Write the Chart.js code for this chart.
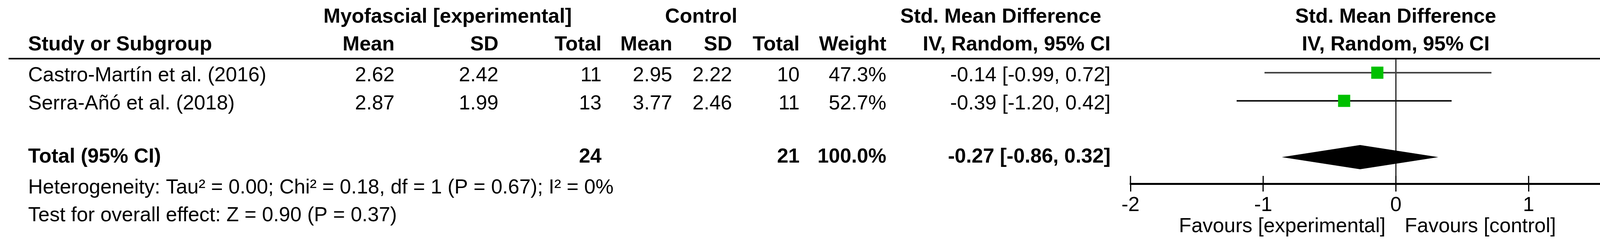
<!DOCTYPE html>
<html lang="en">
<head>
<meta charset="UTF-8">
<title>Forest plot</title>
<script src="https://cdn.jsdelivr.net/npm/chart.js"></script>
<style>
  html, body { margin: 0; padding: 0; background: #fff; overflow: hidden; }
</style>
</head>
<body>
<canvas id="forest" width="4301" height="614"></canvas>
<script>
// study data
const studies = ['Castro-Martín et al. (2016)', 'Serra-Añó et al. (2018)'];
const expMean = ['2.62', '2.87'];
const expSD = ['2.42', '1.99'];
const expTotal = ['11', '13'];
const ctlMean = ['2.95', '3.77'];
const ctlSD = ['2.22', '2.46'];
const ctlTotal = ['10', '11'];
const weights = ['47.3%', '52.7%'];
const smd = [-0.14, -0.39];
const ciLow = [-0.99, -1.20];
const ciHigh = [0.72, 0.42];

// pooled
const totalExp = '24';
const totalCtl = '21';
const totalWeight = '100.0%';
const pooled = -0.27;
const pooledLow = -0.86;
const pooledHigh = 0.32;

const xTicks = [-2, -1, 0, 1, 2];
const heterogeneity = 'Heterogeneity: Tau² = 0.00; Chi² = 0.18, df = 1 (P = 0.67); I² = 0%';
const overall = 'Test for overall effect: Z = 0.90 (P = 0.37)';

const rowOf = [1, 2];
const totalRow = 4;
const fmt = v => v.toFixed(2);
const ciText = (m, l, h) => fmt(m) + ' [' + fmt(l) + ', ' + fmt(h) + ']';

const FONT = '"Liberation Sans", Arial, sans-serif';

const datasets = [];
studies.forEach((s, i) => {
    datasets.push({
        type: 'line',
        data: [{ x: ciLow[i], y: rowOf[i] }, { x: ciHigh[i], y: rowOf[i] }],
        borderColor: i === 0 ? '#444' : '#111',
        borderWidth: 4,
        pointRadius: 0,
        order: 2
    });
});
datasets.push({
    type: 'scatter',
    data: studies.map((s, i) => ({ x: smd[i], y: rowOf[i] })),
    pointStyle: 'rect',
    pointRadius: 22,
    backgroundColor: '#00c000',
    borderColor: '#00c000',
    borderWidth: 0,
    order: 1
});

const tablePlugin = {
    id: 'table',
    beforeDatasetsDraw(chart) {
        const ctx = chart.ctx;
        const xs = chart.scales.x, ys = chart.scales.y;
        const ca = chart.chartArea;
        ctx.save();
        // header rule
        ctx.fillStyle = '#000';
        ctx.fillRect(22, ca.top - 2, 4301 - 22, 4);
        // zero line
        ctx.fillStyle = '#222';
        const x0 = xs.getPixelForValue(0);
        ctx.fillRect(x0 - 1.5, ca.top, 3, ca.bottom - ca.top);
        // upper halves of axis ticks
        ctx.fillStyle = '#000';
        xTicks.forEach(t => {
            const px = xs.getPixelForValue(t);
            ctx.fillRect(px - 1.5, ca.bottom - 20, 3, 20);
        });
        // pooled diamond
        const yc = ys.getPixelForValue(totalRow);
        ctx.beginPath();
        ctx.moveTo(xs.getPixelForValue(pooledLow), yc);
        ctx.lineTo(xs.getPixelForValue(pooled), yc - 31);
        ctx.lineTo(xs.getPixelForValue(pooledHigh), yc);
        ctx.lineTo(xs.getPixelForValue(pooled), yc + 31);
        ctx.closePath();
        ctx.fill();
        ctx.restore();
    },
    afterDraw(chart) {
        const ctx = chart.ctx;
        const ys = chart.scales.y;
        ctx.save();
        ctx.fillStyle = '#000';
        ctx.textBaseline = 'middle';
        const txt = (s, x, y, align, bold) => {
            ctx.font = (bold ? 'bold ' : '') + '52px ' + FONT;
            ctx.textAlign = align;
            ctx.fillText(s, x, y);
        };
        // headers
        txt('Myofascial [experimental]', 1146, 44, 'center', true);
        txt('Control', 1795, 44, 'center', true);
        txt('Std. Mean Difference', 2562, 44, 'center', true);
        txt('Std. Mean Difference', 3573, 44, 'center', true);
        txt('Study or Subgroup', 72, 115, 'left', true);
        txt('Mean', 1010, 115, 'right', true);
        txt('SD', 1276, 115, 'right', true);
        txt('Total', 1540, 115, 'right', true);
        txt('Mean', 1721, 115, 'right', true);
        txt('SD', 1874, 115, 'right', true);
        txt('Total', 2047, 115, 'right', true);
        txt('Weight', 2269, 115, 'right', true);
        txt('IV, Random, 95% CI', 2843, 115, 'right', true);
        txt('IV, Random, 95% CI', 3573, 115, 'center', true);
        // rows
        studies.forEach((s, i) => {
            const y = ys.getPixelForValue(rowOf[i]) + 8;
            txt(s, 72, y, 'left');
            txt(expMean[i], 1010, y, 'right');
            txt(expSD[i], 1276, y, 'right');
            txt(expTotal[i], 1540, y, 'right');
            txt(ctlMean[i], 1721, y, 'right');
            txt(ctlSD[i], 1874, y, 'right');
            txt(ctlTotal[i], 2047, y, 'right');
            txt(weights[i], 2269, y, 'right');
            txt(ciText(smd[i], ciLow[i], ciHigh[i]), 2843, y, 'right');
        });
        const yt = ys.getPixelForValue(totalRow);
        txt('Total (95% CI)', 72, yt, 'left', true);
        txt(totalExp, 1540, yt, 'right', true);
        txt(totalCtl, 2047, yt, 'right', true);
        txt(totalWeight, 2269, yt, 'right', true);
        txt(ciText(pooled, pooledLow, pooledHigh), 2843, yt, 'right', true);
        txt(heterogeneity, 72, 481, 'left');
        txt(overall, 72, 552, 'left');
        // favours labels
        txt('Favours [experimental]', 3547, 580, 'right');
        txt('Favours [control]', 3596, 580, 'left');
        ctx.restore();
    }
};

new Chart(document.getElementById('forest'), {
    type: 'scatter',
    data: { datasets },
    options: {
        responsive: false,
        devicePixelRatio: 1,
        animation: false,
        layout: { padding: { left: 2894, right: 48, top: 150, bottom: 0 } },
        plugins: { legend: { display: false }, tooltip: { enabled: false } },
        scales: {
            x: {
                type: 'linear',
                min: -2,
                max: 2,
                afterBuildTicks: axis => { axis.ticks = xTicks.map(v => ({ value: v })); },
                grid: { drawOnChartArea: false, tickLength: 20, tickWidth: 3, color: '#000' },
                border: { display: true, color: '#000', width: 5 },
                ticks: { color: '#000', font: { size: 52, family: FONT }, padding: 4, autoSkip: false, maxRotation: 0 },
                afterFit: axis => { axis.height = 144; }
            },
            y: {
                display: false,
                reverse: true,
                min: 0.5,
                max: 0.5 + 320 / 72
            }
        }
    },
    plugins: [tablePlugin]
});
</script>
</body>
</html>
